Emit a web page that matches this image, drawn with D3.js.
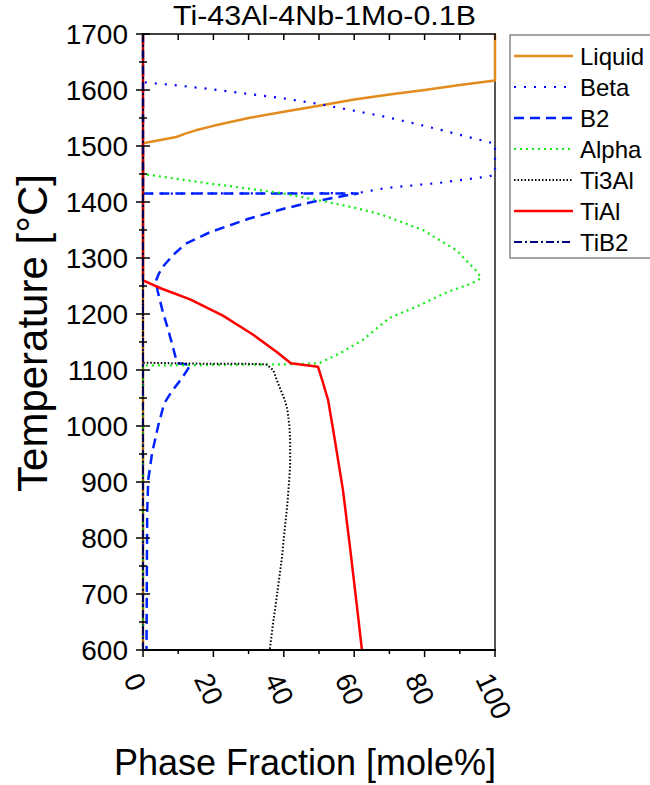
<!DOCTYPE html>
<html><head><meta charset="utf-8">
<script src="https://cdn.jsdelivr.net/npm/d3@7"></script>
<style>body{margin:0;background:#fff}svg{display:block}text{font-family:"Liberation Sans",Arial,sans-serif;fill:#000}</style>
</head><body>
<svg id="chart" width="650" height="785"></svg>
<script>
const title = "Ti-43Al-4Nb-1Mo-0.1B";
const xTicks = [0, 20, 40, 60, 80, 100];
const yTicks = [600, 700, 800, 900, 1000, 1100, 1200, 1300, 1400, 1500, 1600, 1700];
const seriesNames = ["Liquid", "Beta", "B2", "Alpha", "Ti3Al", "TiAl", "TiB2"];

// [phase fraction mole%, temperature °C]
const liquid = [[0,600],[0,1505],[9.5,1516],[12,1522],[15,1528],[20,1536],[30,1550],[40,1561],[50,1572],[60,1583],[70,1592],[80,1600],[90,1609],[100,1617],[100,1700]];
const beta = [[0,1700],[0,1614],[10,1608],[20,1601],[30,1593],[39,1586],[50,1575],[60,1563],[69,1552],[80,1536],[90,1520],[100,1504],[100,1450],[98.5,1446],[84,1434],[69,1425],[61,1416],[0,1415],[0,600]];
const b2 = [[0,1700],[0,1415],[61,1415],[58,1412],[48,1400],[40,1388],[30,1370],[19,1346],[12,1325],[8.5,1305],[6,1287],[4.5,1272],[3.6,1258],[4.2,1240],[5.5,1207],[7,1175],[8.2,1148],[9.7,1112],[13.5,1109],[11,1085],[8,1060],[6,1040],[4.3,1000],[2.6,952],[1.5,905],[1.2,850],[1.1,750],[1.0,600]];
const alpha = [[0,1700],[0,1450],[10,1441],[20,1432],[30,1424],[39,1416],[50,1403],[60,1390],[68,1377],[79.5,1350],[89,1314],[95,1275],[96,1264],[93.5,1255],[86.4,1239],[77.3,1212],[70,1193],[62.5,1154],[56,1130],[50,1112],[40,1110],[20,1109],[0,1108],[0,600]];
const ti3al = [[0,1700],[0,1113],[10,1112],[20,1111],[30,1111],[35,1110],[37,1100],[38,1082],[40.3,1046],[41,1030],[41.6,1000],[41.8,975],[41.8,930],[41.5,900],[41,860],[40,800],[39.5,766],[38,695],[37,650],[36,600]];
const tial = [[0,1700],[0,1260],[5,1246],[13.4,1226],[22.7,1197],[31.3,1163],[38,1132],[42,1112],[49.7,1106],[51,1080],[52.6,1046],[54.5,975],[56.8,886],[58.8,784],[60.8,677],[62.2,600]];
const tib2 = [[0,1700],[0,600]];

const styles = {
  Liquid:{color:"#E38C1E", dash:null, w:2.5},
  Beta:{color:"#0000FF", dash:"2,8", w:2.2},
  B2:{color:"#0022FF", dash:"10,6", w:2.5},
  Alpha:{color:"#11EE11", dash:"2,4", w:2.2},
  Ti3Al:{color:"#000000", dash:"1.5,2", w:2},
  TiAl:{color:"#FF0000", dash:null, w:2.5},
  TiB2:{color:"#000080", dash:"8,3,2,3", w:2}
};
const dataByName = {Liquid:liquid, Beta:beta, B2:b2, Alpha:alpha, Ti3Al:ti3al, TiAl:tial, TiB2:tib2};

const svg = d3.select("#chart");
const x = d3.scaleLinear().domain([0,100]).range([143,495]);
const y = d3.scaleLinear().domain([600,1700]).range([650,34]);

// right frame
svg.append("line").attr("x1",495).attr("x2",495).attr("y1",34).attr("y2",650).attr("stroke","#555").attr("stroke-width",2);

// lines
const line = d3.line().x(d=>x(d[0])).y(d=>y(d[1]));
seriesNames.forEach(n=>{
  const s = styles[n];
  svg.append("path").datum(dataByName[n]).attr("d",line).attr("fill","none")
    .attr("stroke",s.color).attr("stroke-width",s.w).attr("stroke-dasharray",s.dash)
    .attr("stroke-linejoin","round");
});

// bottom axis
const gb = svg.append("g").attr("transform","translate(0,650)");
gb.append("line").attr("x1",142).attr("x2",496).attr("stroke","#000").attr("stroke-width",2);
d3.range(0,101,10).forEach(v=>{
  gb.append("line").attr("x1",x(v)).attr("x2",x(v)).attr("y1",0).attr("y2",v%20===0?7:4).attr("stroke","#000").attr("stroke-width",1.5);
});
xTicks.forEach(v=>{
  svg.append("text").attr("transform",`translate(${x(v)-20},679) rotate(65)`).attr("font-size",28).text(v);
});
// top axis
const gt = svg.append("g").attr("transform","translate(0,34)");
gt.append("line").attr("x1",142).attr("x2",496).attr("stroke","#000").attr("stroke-width",1.5);
d3.range(0,101,10).forEach(v=>{
  gt.append("line").attr("x1",x(v)).attr("x2",x(v)).attr("y1",0).attr("y2",6).attr("stroke","#000").attr("stroke-width",1.5);
});
// left axis
const gl = svg.append("g");
gl.append("line").attr("x1",143).attr("x2",143).attr("y1",34).attr("y2",650).attr("stroke","#000").attr("stroke-width",1).attr("opacity",0.6);
d3.range(600,1701,50).forEach(v=>{
  const big = v%100===0;
  gl.append("line").attr("x1",big?136:139).attr("x2",big?150:147).attr("y1",y(v)).attr("y2",y(v)).attr("stroke","#000").attr("stroke-width",1.5);
});
yTicks.forEach(v=>{
  gl.append("text").attr("x",128).attr("y",y(v)).attr("dy","0.36em").attr("text-anchor","end").attr("font-size",28).text(v);
});

// title
svg.append("text").attr("x",324.5).attr("y",25).attr("text-anchor","middle").attr("font-size",27)
  .attr("textLength",303).attr("lengthAdjust","spacingAndGlyphs").text(title);
// axis titles
svg.append("text").attr("transform","translate(47,333) rotate(-90)").attr("text-anchor","middle").attr("font-size",42).text("Temperature [°C]");
svg.append("text").attr("x",305).attr("y",775).attr("text-anchor","middle").attr("font-size",36).text("Phase Fraction [mole%]");

// legend
const lg = svg.append("g");
lg.append("rect").attr("x",510).attr("y",35).attr("width",160).attr("height",223).attr("fill","#fff").attr("stroke","#888").attr("stroke-width",1.5);
seriesNames.forEach((n,i)=>{
  const s = styles[n];
  const yy = 56 + i*31;
  lg.append("line").attr("x1",514).attr("x2",573).attr("y1",yy).attr("y2",yy)
    .attr("stroke",s.color).attr("stroke-width",s.w).attr("stroke-dasharray",s.dash);
  lg.append("text").attr("x",580).attr("y",yy).attr("dy","0.36em").attr("font-size",24).text(n);
});
</script>
</body></html>
